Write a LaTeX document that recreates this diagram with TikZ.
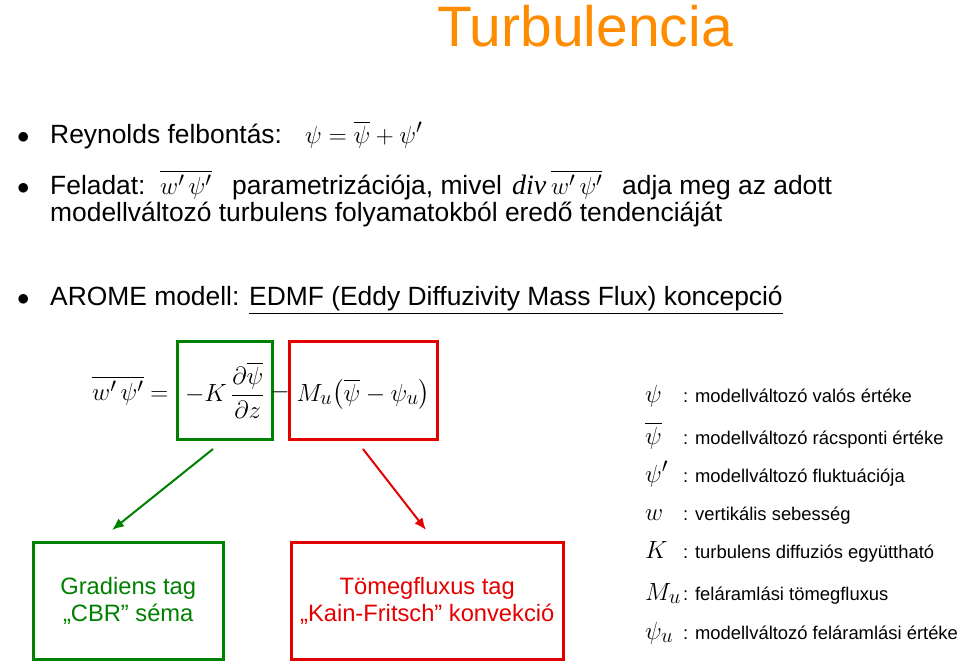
\documentclass[tikz,border=0pt]{standalone}
\usepackage{fontspec}
\setmainfont{Liberation Sans}
\newfontfamily\serifit{Liberation Serif}
\usepackage{amsmath}
\usetikzlibrary{arrows.meta}
\begin{document}
\begin{tikzpicture}[x=1pt,y=-1pt,
  txt/.style={anchor=base west,inner sep=0pt,font=\fontsize{26.4}{30}\selectfont},
  leg/.style={anchor=base west,inner sep=0pt,font=\fontsize{18.4}{22}\selectfont},
  sym/.style={anchor=base west,inner sep=0pt,font=\fontsize{29}{32}\selectfont},
  gbox/.style={draw=green!50!black,line width=2.5pt},
  rbox/.style={draw=red!90!black,line width=2.5pt},
  btxt/.style={align=center,font=\fontsize{23.7}{27}\selectfont},
  arr/.style={line width=2pt,-{Latex[length=12pt,width=10pt]}}]
\useasboundingbox (0,0) rectangle (960,666);
\node[anchor=base,inner sep=0pt,font=\fontsize{57}{60}\selectfont,text=orange!90!yellow] (title) at (585,47) {Turbulencia};
% bullets
\foreach \y/\n in {143/b1,194/b2,305/b3} \node[txt] (\n) at (17,\y) {$\bullet$};
\node[txt] (t1) at (50,143) {Reynolds felbontás:};
\node[txt,font=\fontsize{28}{30}\selectfont] (m1) at (305,143) {$\psi=\overline{\psi}+\psi'$};
\node[txt] (t2a) at (50,194) {Feladat:};
\node[txt,font=\fontsize{28}{30}\selectfont] (m2) at (160,194) {$\overline{w'\,\psi'}$};
\node[txt] (t2b) at (232,194) {parametrizációja, mivel};
\node[txt,font=\fontsize{28}{30}\selectfont] (m3) at (512,194) {\serifit\itshape div\,$\overline{w'\,\psi'}$};
\node[txt] (t2c) at (622,194) {adja meg az adott};
\node[txt] (t3) at (50,221) {modellváltozó turbulens folyamatokból eredő tendenciáját};
\node[txt] (t4) at (50,305) {AROME modell: \underline{EDMF (Eddy Diffuzivity Mass Flux) koncepció}};
% equation
\node[txt,font=\fontsize{32}{34}\selectfont] (lhs) at (92,400) {$\overline{w'\,\psi'}=$};
\node[gbox,minimum width=95,minimum height=98,anchor=north west] (gb) at (176,340) {};
\node[rbox,minimum width=148,minimum height=98,anchor=north west] (rb) at (288,340) {};
\node[font=\fontsize{32}{34}\selectfont,inner sep=0pt] (geq) at (gb.center) {$-K\,\dfrac{\partial\overline{\psi}}{\partial z}$};
\node[font=\fontsize{32}{34}\selectfont,inner sep=0pt] (minus) at (280,392) {$-$};
\node[font=\fontsize{32}{34}\selectfont,inner sep=0pt] (req) at ([yshift=-4]rb.center) {$M_u\bigl(\overline{\psi}-\psi_u\bigr)$};
% lower boxes
\node[gbox,minimum width=190,minimum height=117,anchor=north west,btxt,text=green!50!black] (gl) at (32,541) {Gradiens tag\\„CBR” séma};
\node[rbox,minimum width=272,minimum height=117,anchor=north west,btxt,text=red!90!black] (rl) at (290,541) {Tömegfluxus tag\\„Kain-Fritsch” konvekció};
\coordinate (ga) at (213,449); \coordinate (gz) at (112,530);
\coordinate (ra) at (363,449); \coordinate (rz) at (426,530);
\draw[green!50!black,arr] (ga) -- (gz);
\draw[red!90!black,arr] (ra) -- (rz);
% legend
\node[sym] (s1) at (645,402) {$\psi$};
\node[leg] (l1) at (683,402) {: modellváltozó valós értéke};
\node[sym] (s2) at (645,444) {$\overline{\psi}$};
\node[leg] (l2) at (683,444) {: modellváltozó rácsponti értéke};
\node[sym] (s3) at (645,482) {$\psi'$};
\node[leg] (l3) at (683,482) {: modellváltozó fluktuációja};
\node[sym] (s4) at (645,520) {$w$};
\node[leg] (l4) at (683,520) {: vertikális sebesség};
\node[sym] (s5) at (645,558) {$K$};
\node[leg] (l5) at (683,558) {: turbulens diffuziós együttható};
\node[sym] (s6) at (645,600) {$M_u$};
\node[leg] (l6) at (683,600) {: feláramlási tömegfluxus};
\node[sym] (s7) at (645,639) {$\psi_u$};
\node[leg] (l7) at (683,639) {: modellváltozó feláramlási értéke};
\end{tikzpicture}
\end{document}
